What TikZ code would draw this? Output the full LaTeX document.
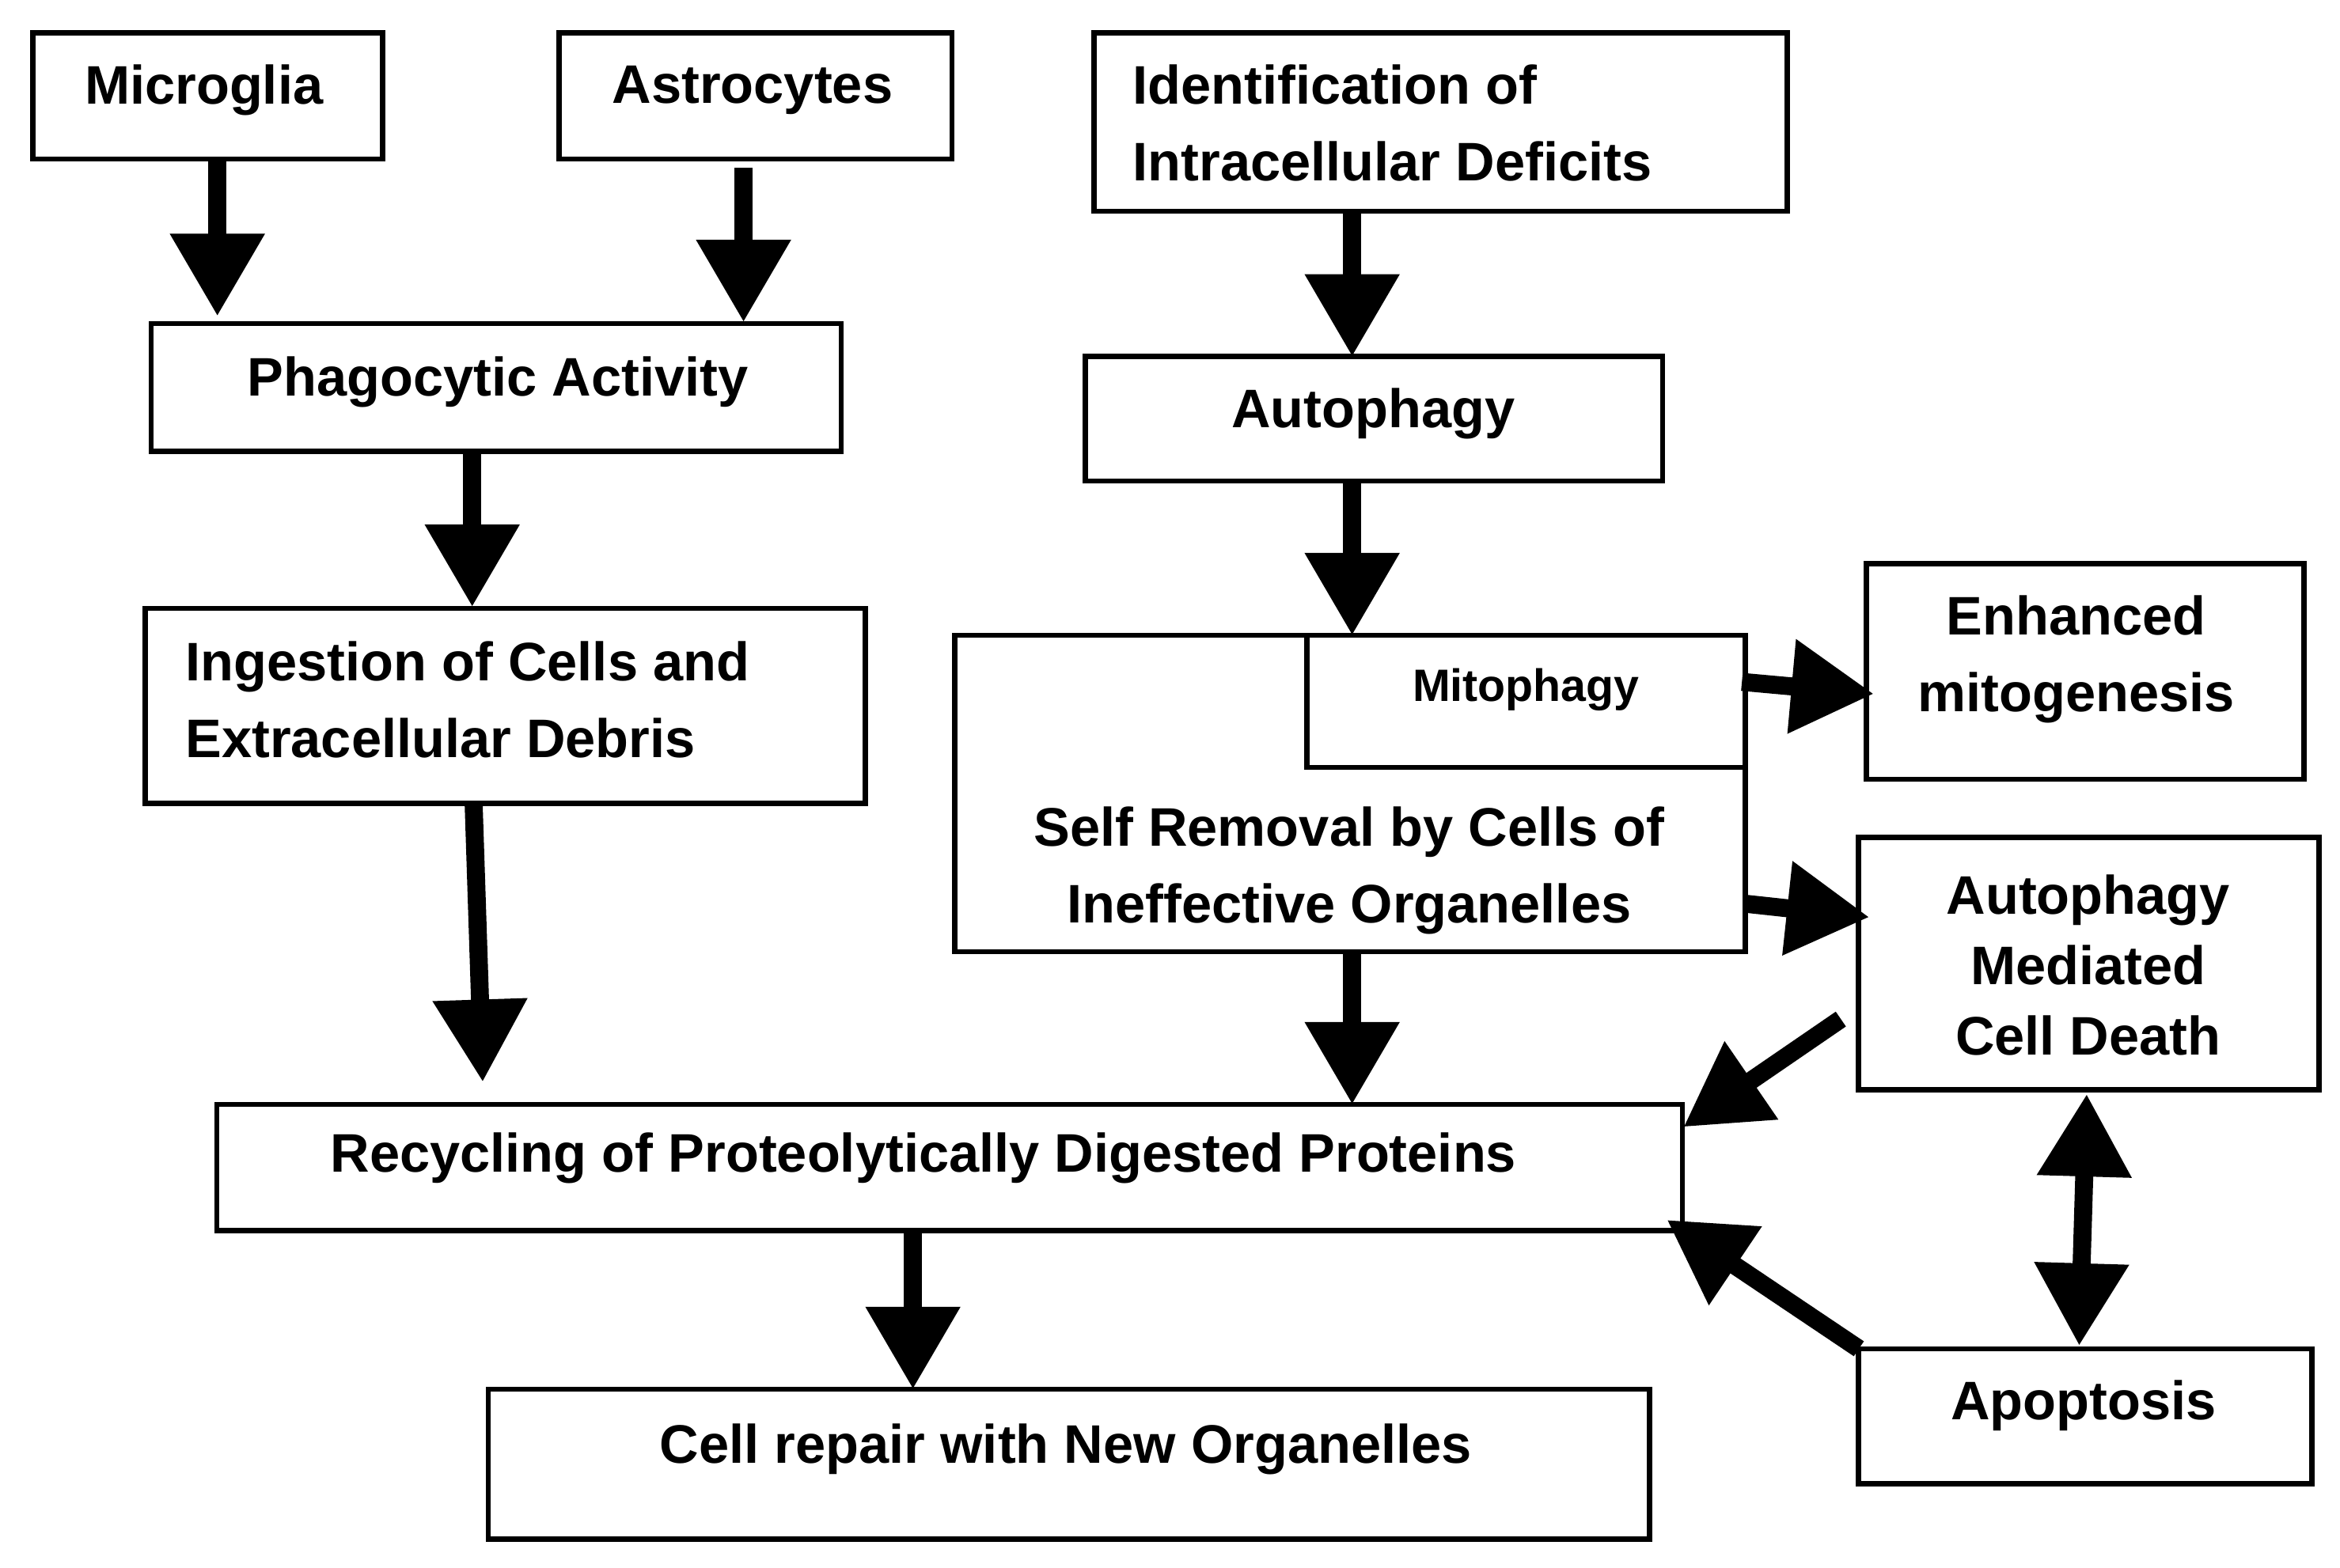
\documentclass[tikz,border=0pt]{standalone}
\usepackage{fontspec}
\setmainfont{Liberation Sans}
\usetikzlibrary{arrows.meta}
\begin{document}
\begin{tikzpicture}[x=0.01cm,y=-0.01cm,
  box/.style={draw=black,line width=1pt,inner sep=0pt,fill=white},
  txt/.style={font=\bfseries\fontsize{10.3}{14.5}\selectfont,inner sep=0pt,align=center},
  arr/.style={line width=0.12cm,-{Triangle[width=0.6cm,length=0.55cm]}},
  darr/.style={line width=0.12cm,{Triangle[width=0.6cm,length=0.55cm]}-{Triangle[width=0.6cm,length=0.55cm]}}]
\useasboundingbox[fill=white] (0,0) rectangle (1561,1046);
\node[box,minimum width=2.33cm,minimum height=0.84cm] (micro) at (138.5,64) {};
\node[txt] at (136,60) {Microglia};
\node[box,minimum width=2.62cm,minimum height=0.84cm] (astro) at (504,64) {};
\node[txt] at (502,60) {Astrocytes};
\node[box,minimum width=4.62cm,minimum height=1.19cm] (ident) at (961,81.5) {};
\node[txt,align=left,anchor=west] at (755,82) {Identification of\\Intracellular Deficits};
\node[box,minimum width=4.60cm,minimum height=0.85cm] (phago) at (331,258.5) {};
\node[txt] at (332,255) {Phagocytic Activity};
\node[box,minimum width=3.85cm,minimum height=0.83cm] (autoph) at (916.5,279.5) {};
\node[txt] at (916,276) {Autophagy};
\node[box,minimum width=4.80cm,minimum height=1.30cm] (ingest) at (337,471) {};
\node[txt,align=left,anchor=west] at (123,467) {Ingestion of Cells and\\Extracellular Debris};
\node[box,minimum width=5.27cm,minimum height=2.11cm] (self) at (900.5,529.5) {};
\node[txt] at (900,581) {Self Removal by Cells of\\Ineffective Organelles};
\node[box,minimum width=2.92cm,minimum height=0.88cm] (mito) at (1018,468) {};
\node[txt,font=\bfseries\fontsize{8.6}{10}\selectfont] at (1018,460) {Mitophagy};
\node[box,minimum width=2.92cm,minimum height=1.44cm] (enh) at (1391,448) {};
\node[txt] at (1385,440) {Enhanced\\mitogenesis};
\node[box,minimum width=3.07cm,minimum height=1.68cm] (amcd) at (1393.5,643) {};
\node[txt,font=\bfseries\fontsize{10.3}{13.3}\selectfont] at (1393,644) {Autophagy\\Mediated\\Cell Death};
\node[box,minimum width=9.77cm,minimum height=0.84cm] (recyc) at (633.5,779) {};
\node[txt] at (616,773) {Recycling of Proteolytically Digested Proteins};
\node[box,minimum width=7.74cm,minimum height=1.00cm] (repair) at (713,977) {};
\node[txt] at (711,967) {Cell repair with New Organelles};
\node[box,minimum width=3.02cm,minimum height=0.90cm] (apop) at (1391,945) {};
\node[txt] at (1390,938) {Apoptosis};
\coordinate (a1) at (145,211); \draw[arr] (145,106) -- (a1);
\coordinate (a2) at (496,215); \draw[arr] (496,112) -- (a2);
\draw[arr] (ident.south -| 902,0) -- (902,238);
\draw[arr] (phago.south -| 315,0) -- (315,405);
\draw[arr] (autoph.south -| 902,0) -- (902,424);
\coordinate (a3) at (322,722); \draw[arr] (ingest.south -| 316,0) -- (a3);
\draw[arr] (self.south -| 902,0) -- (902,737);
\coordinate (a4) at (1250,463); \draw[arr] (1162,455) -- (a4);
\coordinate (a5) at (1247,612); \draw[arr] (1164,603) -- (a5);
\coordinate (a6) at (1123,752); \draw[arr] (1228,680) -- (a6);
\coordinate (a7) at (1112,814); \draw[arr] (1240,900) -- (a7);
\draw[darr] (1392,730) -- (1387,898);
\draw[arr] (recyc.south -| 609,0) -- (609,927);
\end{tikzpicture}
\end{document}
